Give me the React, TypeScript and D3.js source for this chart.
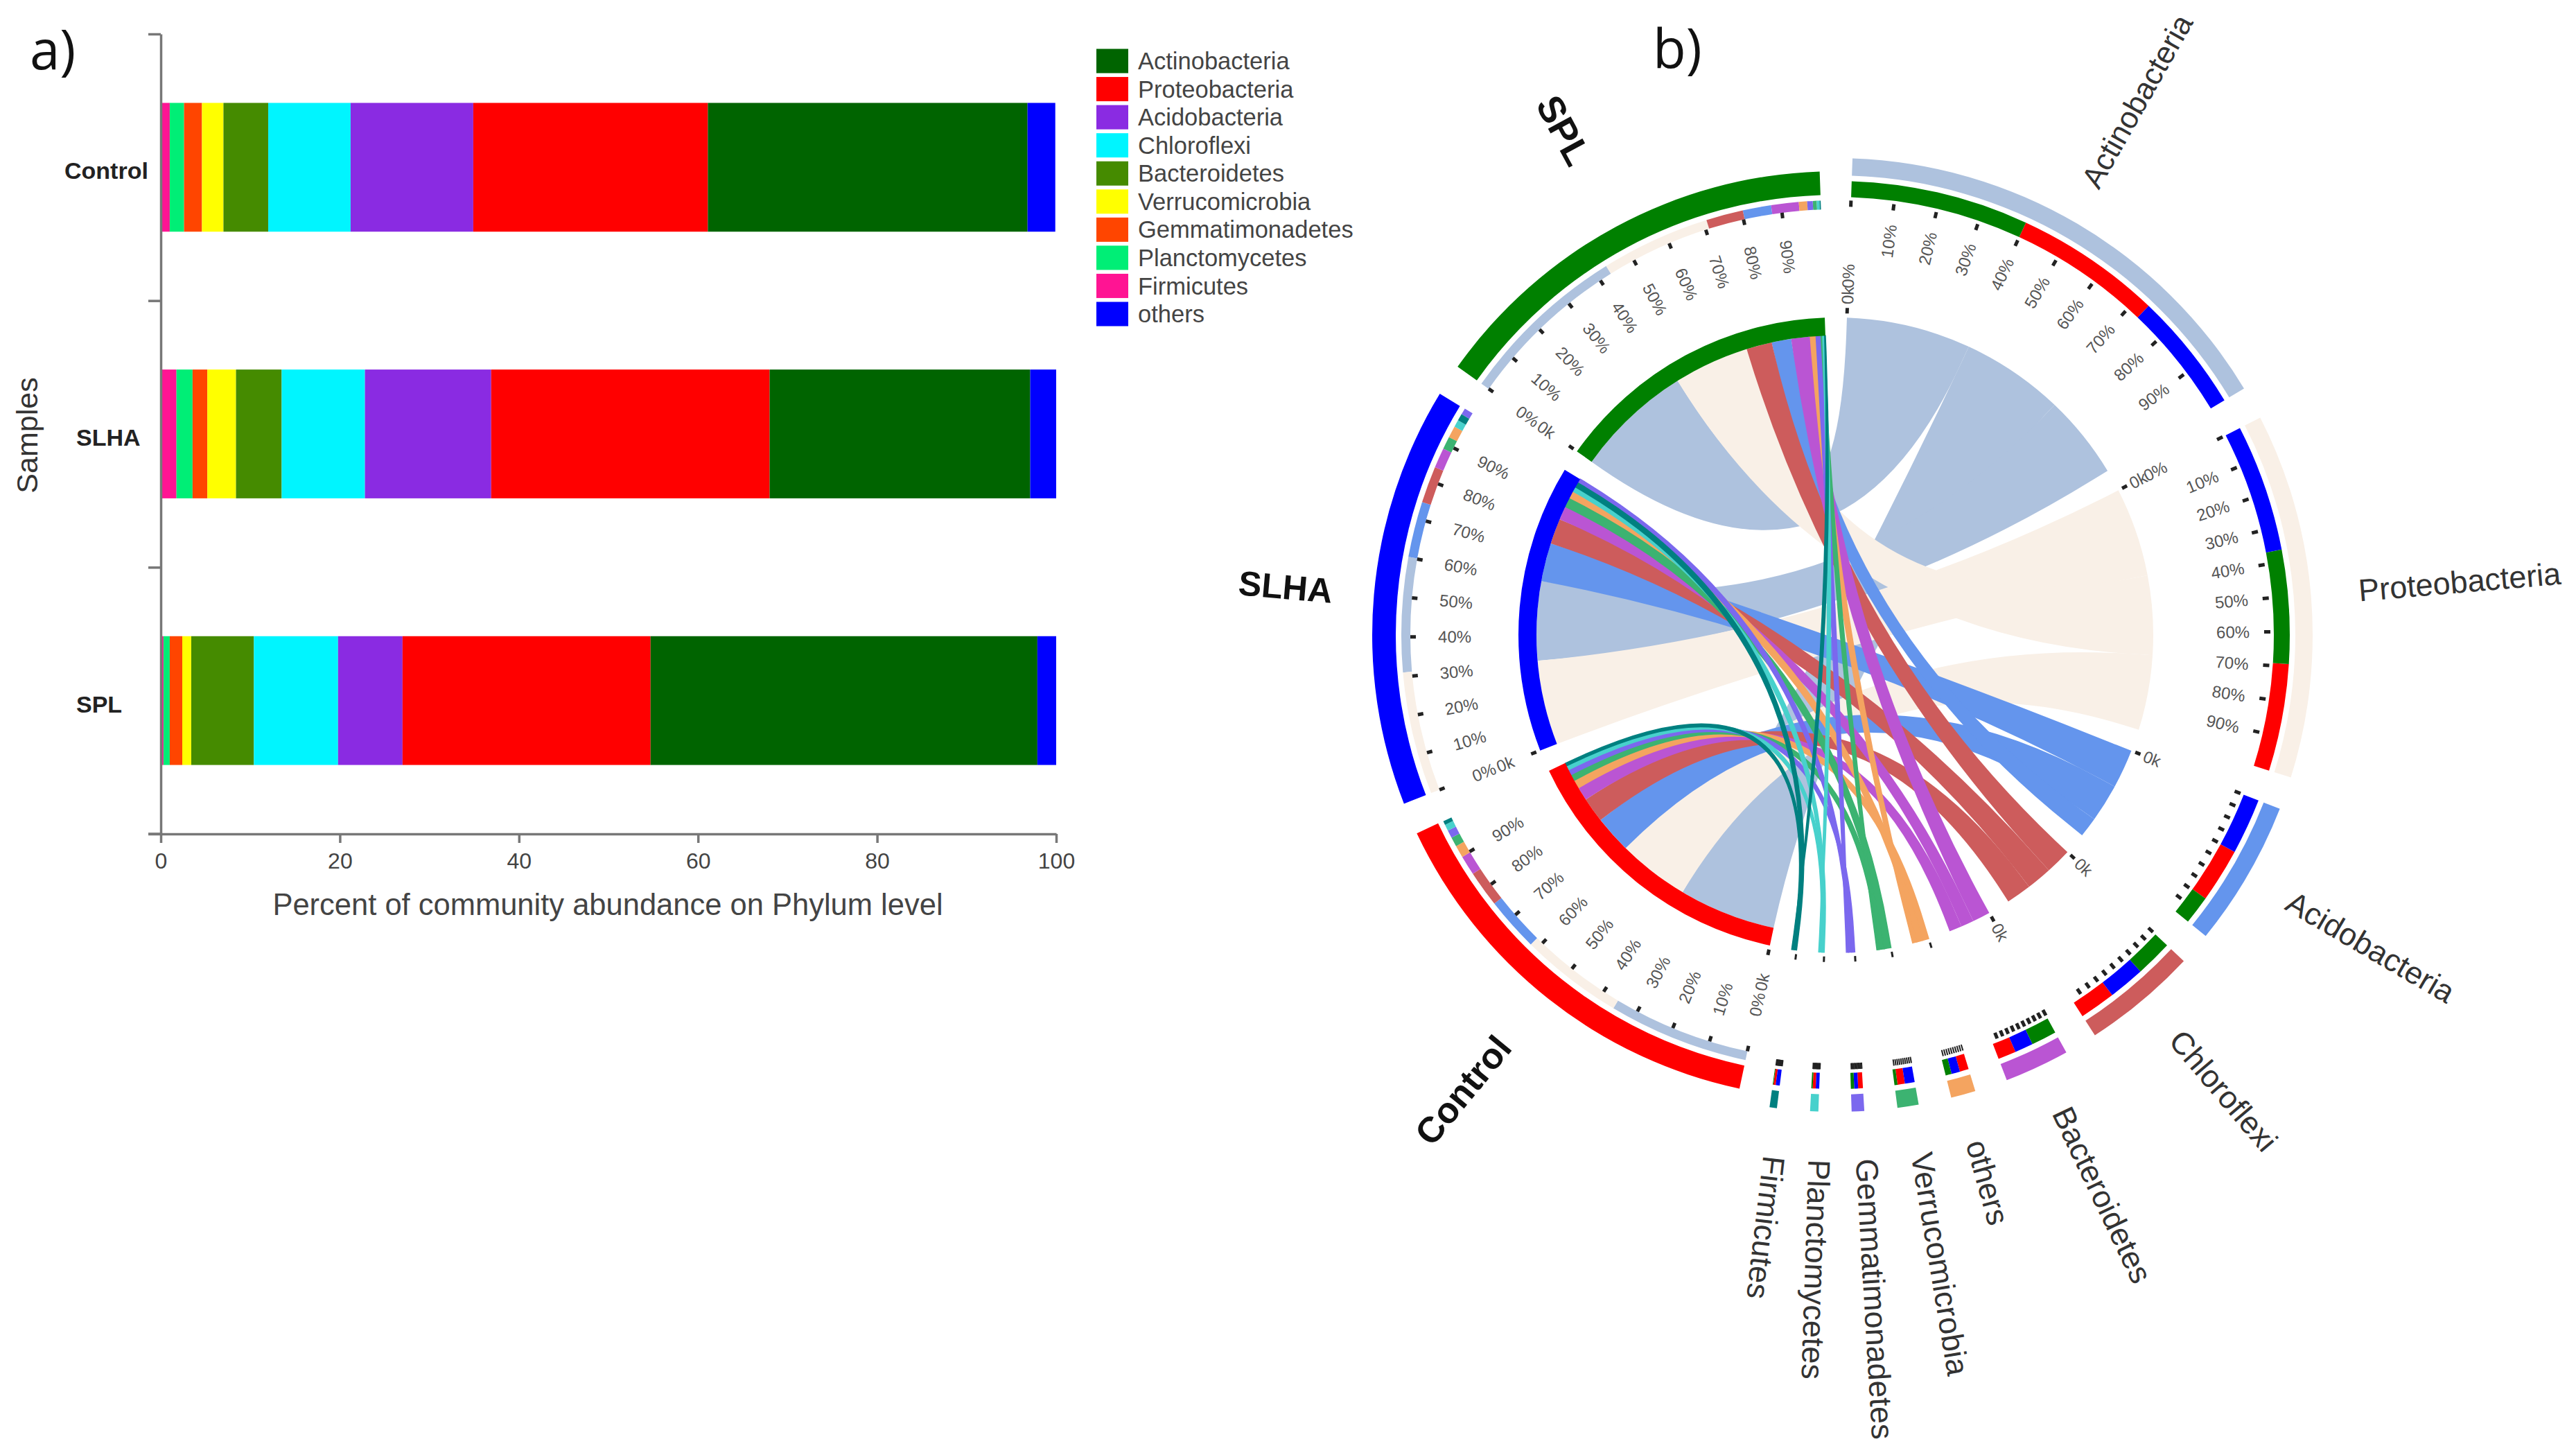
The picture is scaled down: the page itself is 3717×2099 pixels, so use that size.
import * as d3 from "d3";
import { useEffect, useRef } from "react";

const WIDTH = 3717;
const HEIGHT = 2099;
const FONT = "'Liberation Sans', Arial, sans-serif";

const samples = ["Control", "SLHA", "SPL"];
const legendOrder = ["Actinobacteria", "Proteobacteria", "Acidobacteria", "Chloroflexi", "Bacteroidetes", "Verrucomicrobia", "Gemmatimonadetes", "Planctomycetes", "Firmicutes", "others"];
const stackOrder = ["Firmicutes", "Planctomycetes", "Gemmatimonadetes", "Verrucomicrobia", "Bacteroidetes", "Chloroflexi", "Acidobacteria", "Proteobacteria", "Actinobacteria", "others"];
const ringOrder = ["Actinobacteria", "Proteobacteria", "Acidobacteria", "Chloroflexi", "Bacteroidetes", "others", "Verrucomicrobia", "Gemmatimonadetes", "Planctomycetes", "Firmicutes"];

// percent per phylum, same order as legendOrder
const controlShares = [35.7, 26.2, 13.7, 9.2, 5.0, 2.4, 2.0, 1.6, 1.0, 3.1];
const slhaShares = [29.1, 31.1, 14.1, 9.3, 5.1, 3.2, 1.65, 1.8, 1.75, 3.0];
const splShares = [43.2, 27.7, 7.2, 9.4, 7.0, 1.0, 1.4, 0.7, 0.3, 2.1];
const sampleShares = [controlShares, slhaShares, splShares];

// size of each phylum sector on the ring, same order as ringOrder
const phylumSpans = [108, 84.5, 33.7, 26.5, 15, 5.7, 4.9, 2.9, 1.9, 1.7];
const ringSampleOrder = ["Control", "SLHA", "SPL"];

const barTicks = [0, 20, 40, 60, 80, 100];
const ringPercents = [0, 10, 20, 30, 40, 50, 60, 70, 80, 90];

const barColors: Record<string, string> = {
    Actinobacteria: "#006400",
    Proteobacteria: "#ff0000",
    Acidobacteria: "#8a2be2",
    Chloroflexi: "#00f5ff",
    Bacteroidetes: "#458b00",
    Verrucomicrobia: "#ffff00",
    Gemmatimonadetes: "#ff4500",
    Planctomycetes: "#00ee76",
    Firmicutes: "#ff1493",
    others: "#0000ff",
};
const ringColors: Record<string, string> = {
    Actinobacteria: "#aec2de",
    Proteobacteria: "#f9f0e7",
    Acidobacteria: "#6495ed",
    Chloroflexi: "#cd5c5c",
    Bacteroidetes: "#ba55d3",
    others: "#f4a460",
    Verrucomicrobia: "#3cb371",
    Gemmatimonadetes: "#7b68ee",
    Planctomycetes: "#48d1cc",
    Firmicutes: "#008080",
};
const sampleColors: Record<string, string> = { Control: "#ff0000", SLHA: "#0000ff", SPL: "#008000" };

const rad = (deg: number) => (deg * Math.PI) / 180;

function drawBars(svg: d3.Selection<SVGSVGElement, unknown, null, undefined>) {
    const x = d3.scaleLinear().domain([0, 100]).range([232, 1524]);
    const y = d3.scaleBand().domain(samples).range([49, 1203]).paddingInner(0.517).paddingOuter(0.2585);
    const rows = samples.map((s, i) => {
        const row: Record<string, number> = {};
        legendOrder.forEach((p, j) => (row[p] = sampleShares[i][j]));
        return row;
    });
    const layers = d3.stack<Record<string, number>>().keys(stackOrder)(rows);
    const g = svg.append("g");
    layers.forEach((layer) => {
        layer.forEach((d, i) => {
            g.append("rect")
                .attr("x", x(d[0]))
                .attr("y", y(samples[i]) ?? 0)
                .attr("width", x(Math.min(d[1], 100)) - x(d[0]))
                .attr("height", y.bandwidth())
                .attr("fill", barColors[layer.key]);
        });
    });

    const xAxis = g.append("g").attr("transform", "translate(0,1203)").call(d3.axisBottom(x).tickValues(barTicks).tickSize(13).tickPadding(14).tickSizeOuter(0));
    xAxis.selectAll("text").attr("font-size", 32).attr("font-family", FONT).attr("fill", "#444");
    const yTicks = d3.scaleLinear().domain([0, 3]).range([49, 1203]);
    const yAxis = g.append("g").attr("transform", "translate(232,0)").call(d3.axisLeft(yTicks).tickValues([0, 1, 2, 3]).tickSize(18).tickFormat(() => "").tickSizeOuter(0));
    [xAxis, yAxis].forEach((a) => {
        a.selectAll("line").attr("stroke", "#777").attr("stroke-width", 3.5);
        a.select(".domain").attr("stroke", "#777").attr("stroke-width", 3.5);
    });
    xAxis.append("line").attr("x1", 214).attr("x2", 232).attr("stroke", "#777").attr("stroke-width", 3.5);

    const labelX = [93, 110, 110];
    samples.forEach((s, i) => {
        g.append("text")
            .attr("x", labelX[i])
            .attr("y", (y(s) ?? 0) + y.bandwidth() / 2 + 5)
            .attr("dy", "0.35em")
            .attr("font-size", 34)
            .attr("font-weight", "bold")
            .attr("fill", "#222")
            .text(s);
    });
    g.append("text").attr("x", 877).attr("y", 1320).attr("text-anchor", "middle").attr("font-size", 43.5).attr("fill", "#444").text("Percent of community abundance on Phylum level");
    g.append("text").attr("transform", "translate(54,628) rotate(-90)").attr("text-anchor", "middle").attr("font-size", 43).attr("fill", "#333").text("Samples");

    const legendY = d3.scalePoint().domain(legendOrder).range([88, 453]);
    legendOrder.forEach((p) => {
        const cy = legendY(p) ?? 0;
        g.append("rect").attr("x", 1582).attr("y", cy - 17.5).attr("width", 46).attr("height", 35).attr("fill", barColors[p]);
        g.append("text").attr("x", 1642).attr("y", cy).attr("dy", "0.35em").attr("font-size", 34.5).attr("fill", "#444").text(p);
    });
}

function drawChord(svg: d3.Selection<SVGSVGElement, unknown, null, undefined>) {
    const GAP = 4;
    const START = 2;
    const g = svg.append("g").attr("transform", "translate(2649,916)");

    const sectorSizes = [...phylumSpans, ...ringSampleOrder.map(() => 100)];
    const names = [...ringOrder, ...ringSampleOrder];
    const degPerUnit = d3.scaleLinear().domain([0, d3.sum(sectorSizes)]).range([0, 360 - GAP * names.length]);
    const sectors = new Map<string, { start: number; end: number }>();
    let cursor = START;
    names.forEach((n, i) => {
        const w = degPerUnit(sectorSizes[i]);
        sectors.set(n, { start: cursor, end: cursor + w });
        cursor += w + GAP;
    });

    const valueOf = (sample: string, phylum: string) => sampleShares[samples.indexOf(sample)][legendOrder.indexOf(phylum)];
    const arc = (r0: number, r1: number, a0: number, a1: number, fill: string) =>
        g.append("path").attr("d", d3.arc()({ innerRadius: r0, outerRadius: r1, startAngle: rad(a0), endAngle: rad(a1) }) ?? "").attr("fill", fill);

    // slots: where each link lands on its sample sector and on its phylum sector
    const sampleSlots = new Map<string, [number, number]>();
    const phylumSlots = new Map<string, [number, number]>();
    ringSampleOrder.forEach((s) => {
        const sec = sectors.get(s)!;
        const scale = d3.scaleLinear().domain([0, 100]).range([sec.start, sec.end]);
        let acc = 0;
        [...ringOrder].sort((a, b) => d3.descending(valueOf(s, a), valueOf(s, b))).forEach((p) => {
            const v = valueOf(s, p);
            sampleSlots.set(`${s}|${p}`, [scale(acc), scale(acc + v)]);
            acc += v;
        });
    });
    ringOrder.forEach((p) => {
        const sec = sectors.get(p)!;
        const total = d3.sum(ringSampleOrder, (s) => valueOf(s, p));
        const scale = d3.scaleLinear().domain([0, total]).range([sec.start, sec.end]);
        let acc = 0;
        [...ringSampleOrder].sort((a, b) => d3.descending(valueOf(a, p), valueOf(b, p))).forEach((s) => {
            const v = valueOf(s, p);
            phylumSlots.set(`${s}|${p}`, [scale(acc), scale(acc + v)]);
            acc += v;
        });
    });

    // links: the phylum end runs straight for a moment, the two edges get split control points so thin links keep some width
    const R_SAMPLE = 432;
    const R_PHYLUM = 458;
    const R_STRAIGHT = 435;
    const CTRL_SPLIT = 4;
    const minorPhyla = ["others", "Verrucomicrobia", "Gemmatimonadetes", "Planctomycetes", "Firmicutes"];
    const pt = (deg: number, r: number): [number, number] => [r * Math.sin(rad(deg)), -r * Math.cos(rad(deg))];
    ringOrder.forEach((p) => {
        ringSampleOrder.forEach((s) => {
            const [s0, s1] = sampleSlots.get(`${s}|${p}`)!;
            const [p0, p1] = phylumSlots.get(`${s}|${p}`)!;
            const sMid = pt((s0 + s1) / 2, R_SAMPLE);
            const pMid = pt((p0 + p1) / 2, R_PHYLUM);
            const len = Math.hypot(pMid[0] - sMid[0], pMid[1] - sMid[1]) || 1;
            let nx = -(pMid[1] - sMid[1]) / len;
            let ny = (pMid[0] - sMid[0]) / len;
            const a = pt(s1, R_SAMPLE);
            const b = pt(p0, R_PHYLUM);
            const c = pt(p1, R_PHYLUM);
            const d = pt(s0, R_SAMPLE);
            if ((a[0] + b[0] - c[0] - d[0]) * nx + (a[1] + b[1] - c[1] - d[1]) * ny < 0) {
                nx = -nx;
                ny = -ny;
            }
            const path = d3.path();
            path.moveTo(...pt(s0, R_SAMPLE));
            path.arc(0, 0, R_SAMPLE, rad(s0 - 90), rad(s1 - 90));
            path.quadraticCurveTo(nx * CTRL_SPLIT, ny * CTRL_SPLIT, ...pt(p0, R_STRAIGHT));
            path.lineTo(...pt(p0, R_PHYLUM));
            path.arc(0, 0, R_PHYLUM, rad(p0 - 90), rad(p1 - 90));
            path.lineTo(...pt(p1, R_STRAIGHT));
            path.quadraticCurveTo(-nx * CTRL_SPLIT, -ny * CTRL_SPLIT, ...pt(s0, R_SAMPLE));
            path.closePath();
            const link = g.append("path").attr("d", path.toString()).attr("fill", ringColors[p]);
            if (minorPhyla.includes(p)) link.attr("stroke", ringColors[p]).attr("stroke-width", 1.5);
        });
    });

    // rings
    ringSampleOrder.forEach((s) => {
        const sec = sectors.get(s)!;
        arc(635, 669, sec.start, sec.end, sampleColors[s]);
        arc(432, 458, sec.start, sec.end, sampleColors[s]);
        ringOrder.forEach((p) => {
            const [a0, a1] = sampleSlots.get(`${s}|${p}`)!;
            arc(614, 627, a0, a1, ringColors[p]);
        });
    });
    ringOrder.forEach((p) => {
        const sec = sectors.get(p)!;
        arc(663, 688, sec.start, sec.end, ringColors[p]);
        ringSampleOrder.forEach((s) => {
            const [a0, a1] = phylumSlots.get(`${s}|${p}`)!;
            arc(632, 655, a0, a1, sampleColors[s]);
        });
    });

    // ticks and their labels
    const tick = (deg: number, r0: number, r1: number, w = 5, color = "#222") => {
        const [x0, y0] = pt(deg, r0);
        const [x1, y1] = pt(deg, r1);
        g.append("line").attr("x1", x0).attr("y1", y0).attr("x2", x1).attr("y2", y1).attr("stroke", color).attr("stroke-width", w);
    };
    const radialText = (deg: number, r: number, text: string, size: number, color: string, anchor = "middle", weight = "normal") => {
        const [x, y] = pt(deg, r);
        const rotation = deg < 180 ? deg - 90 : deg - 270;
        g.append("text")
            .attr("transform", `translate(${x},${y}) rotate(${rotation})`)
            .attr("text-anchor", anchor)
            .attr("dy", "0.35em")
            .attr("font-size", size)
            .attr("font-weight", weight)
            .attr("fill", color)
            .text(text);
    };

    const labelledPhyla = ["Actinobacteria", "Proteobacteria"];
    const zeroKPhyla = ["Acidobacteria", "Chloroflexi", "Bacteroidetes"];
    names.forEach((n) => {
        const sec = sectors.get(n)!;
        const isSample = ringSampleOrder.includes(n);
        const scale = d3.scaleLinear().domain([0, 100]).range([sec.start, sec.end]);
        const [t0, t1] = isSample ? [606, 614] : [618, 627];
        ringPercents.forEach((pc) => tick(scale(pc), t0, t1, sec.end - sec.start < 4 ? 2 : 5));
        tick(sec.start, 464, 472, sec.end - sec.start < 4 ? 3 : 5);
        if (isSample || labelledPhyla.includes(n)) {
            ringPercents.forEach((pc) => {
                if (pc > 0) radialText(scale(pc), isSample ? 550 : 573, `${pc}%`, 24, "#555");
            });
            radialText(sec.start, isSample ? 545 : 518, "0%", 24, "#555");
            radialText(sec.start, isSample ? 512 : 490, "0k", 24, "#555");
        }
        if (zeroKPhyla.includes(n)) radialText(sec.start, 490, "0k", 24, "#555");
    });

    // sector names
    const labelNudge = [-1, 0, 0, -0.5, -0.5, 0, -0.7, -0.7, -0.8, -0.8];
    ringOrder.forEach((p, i) => {
        const sec = sectors.get(p)!;
        const mid = (sec.start + sec.end) / 2 + labelNudge[i];
        const [x, y] = pt(mid, i === 0 ? 745 : 757);
        g.append("text")
            .attr("transform", `translate(${x},${y}) rotate(${mid - 90})`)
            .attr("dy", "0.35em")
            .attr("font-size", i === 0 ? 44 : 45)
            .attr("fill", "#333")
            .text(p);
    });
    const sampleLabelRadius = [849, 797, 827];
    const sampleLabelNudge = [1, 0, 0];
    const sampleLabelSize = [52, 50, 54];
    ringSampleOrder.forEach((s, i) => {
        const sec = sectors.get(s)!;
        radialText((sec.start + sec.end) / 2 + sampleLabelNudge[i], sampleLabelRadius[i], s, sampleLabelSize[i], "#111", "middle", "bold");
    });
}

export default function App() {
    const svgRef = useRef<SVGSVGElement | null>(null);

    useEffect(() => {
        if (!svgRef.current) return;
        const svg = d3.select(svgRef.current);
        svg.selectAll("*").remove();
        drawBars(svg);
        drawChord(svg);
        svg.append("text").attr("x", 43).attr("y", 100).attr("font-size", 78).attr("font-family", "'Open Sans', sans-serif").attr("fill", "#111").text("a)");
        svg.append("text").attr("x", 2385).attr("y", 98).attr("font-size", 78).attr("font-family", "'Open Sans', sans-serif").attr("fill", "#111").text("b)");
        return () => {
            svg.selectAll("*").remove();
        };
    }, []);

    return (
        <svg
            ref={svgRef}
            width={WIDTH}
            height={HEIGHT}
            viewBox={`0 0 ${WIDTH} ${HEIGHT}`}
            style={{ position: "absolute", left: 0, top: 0, display: "block", background: "#fff", fontFamily: FONT }}
        />
    );
}
